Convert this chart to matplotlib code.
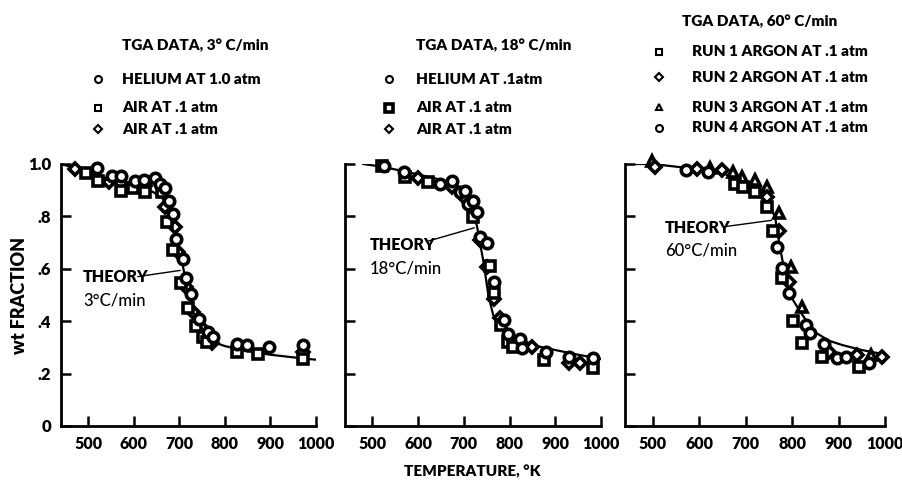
import numpy as np
import matplotlib.pyplot as plt

plt.rcParams['font.family'] = ['Lato', 'DejaVu Sans']

# --- 3 C/min panel ---
he3_T = [519, 552, 572, 602, 622, 647, 658, 668, 677, 686, 693, 708, 715, 726, 743, 763, 774, 826, 849, 897, 972]
he3_w = [0.985, 0.955, 0.955, 0.935, 0.94, 0.946, 0.923, 0.908, 0.858, 0.808, 0.713, 0.636, 0.563, 0.502, 0.41, 0.36, 0.34, 0.314, 0.31, 0.303, 0.31]
airsq3_T = [495, 521, 572, 598, 624, 662, 673, 686, 704, 719, 737, 752, 761, 826, 873, 972]
airsq3_w = [0.965, 0.935, 0.897, 0.908, 0.893, 0.893, 0.778, 0.67, 0.544, 0.452, 0.383, 0.34, 0.32, 0.284, 0.276, 0.257]
airdi3_T = [471, 545, 572, 624, 668, 691, 697, 715, 730, 750, 772, 972]
airdi3_w = [0.98, 0.93, 0.927, 0.916, 0.835, 0.759, 0.663, 0.53, 0.437, 0.375, 0.318, 0.284]
theory3_T = [440, 470, 510, 550, 585, 615, 640, 660, 675, 690, 700, 710, 720, 730, 745, 760, 775, 800, 850, 900, 950, 1000]
theory3_w = [1.0, 0.985, 0.962, 0.94, 0.925, 0.91, 0.895, 0.875, 0.84, 0.76, 0.68, 0.59, 0.53, 0.46, 0.395, 0.345, 0.32, 0.305, 0.285, 0.272, 0.262, 0.253]

# --- 18 C/min panel ---
he18_T = [525, 569, 648, 675, 692, 703, 710, 720, 729, 736, 751, 765, 787, 797, 822, 828, 879, 929, 982]
he18_w = [0.992, 0.97, 0.923, 0.935, 0.893, 0.897, 0.847, 0.858, 0.816, 0.72, 0.70, 0.548, 0.406, 0.352, 0.333, 0.299, 0.284, 0.264, 0.26]
airsq18_T = [521, 572, 622, 720, 758, 765, 782, 797, 808, 876, 982]
airsq18_w = [0.992, 0.95, 0.93, 0.797, 0.61, 0.506, 0.387, 0.322, 0.303, 0.253, 0.222]
airdi18_T = [600, 675, 703, 736, 751, 765, 778, 850, 929, 955]
airdi18_w = [0.946, 0.912, 0.87, 0.709, 0.605, 0.483, 0.414, 0.303, 0.241, 0.241]
theory18_T = [480, 520, 567, 600, 642, 670, 692, 710, 720, 729, 743, 754, 765, 780, 795, 824, 860, 900, 950, 1000]
theory18_w = [1.0, 0.99, 0.973, 0.96, 0.943, 0.92, 0.893, 0.86, 0.825, 0.76, 0.625, 0.495, 0.418, 0.38, 0.355, 0.33, 0.305, 0.29, 0.272, 0.256]

# --- 60 C/min panel ---
run1_T = [676, 695, 721, 745, 758, 779, 801, 822, 865, 944]
run1_w = [0.924, 0.912, 0.893, 0.836, 0.744, 0.565, 0.40, 0.317, 0.263, 0.225]
run2_T = [504, 594, 648, 745, 771, 794, 880, 940, 994]
run2_w = [0.99, 0.98, 0.977, 0.874, 0.744, 0.55, 0.282, 0.271, 0.263]
run3_T = [498, 624, 672, 693, 719, 745, 771, 798, 822, 970]
run3_w = [1.01, 0.985, 0.97, 0.95, 0.939, 0.912, 0.813, 0.607, 0.454, 0.271]
run4_T = [571, 618, 768, 779, 794, 830, 839, 869, 897, 916, 966]
run4_w = [0.977, 0.97, 0.683, 0.603, 0.508, 0.385, 0.355, 0.313, 0.26, 0.263, 0.24]
theory60_T = [444, 500, 573, 644, 690, 715, 735, 751, 764, 772, 783, 798, 815, 835, 852, 880, 908, 950, 1000]
theory60_w = [1.0, 1.0, 0.985, 0.966, 0.945, 0.92, 0.89, 0.855, 0.79, 0.70, 0.595, 0.492, 0.443, 0.39, 0.355, 0.325, 0.309, 0.29, 0.273]

xticks = [500, 600, 700, 800, 900, 1000]
yticks = [0, 0.2, 0.4, 0.6, 0.8, 1.0]
ytick_labels = ['0', '.2', '.4', '.6', '.8', '1.0']

W, H = 902, 484
FS = 11
WT = 'heavy'
fig = plt.figure(figsize=(W / 100, H / 100), dpi=100)


def px_axes(x0, x1, y0=164, y1=426):
    return fig.add_axes([x0 / W, (H - y1) / H, (x1 - x0) / W, (y1 - y0) / H])


def style(ax, show_labels):
    ax.set_xlim(440, 1000)
    ax.set_ylim(0, 1.0)
    for s in ['top', 'right']:
        ax.spines[s].set_visible(False)
    for s in ['left', 'bottom']:
        ax.spines[s].set_linewidth(2)
    ax.set_xticks(xticks)
    ax.set_yticks(yticks)
    ax.tick_params(direction='in', length=7, width=1.8, pad=7)
    ax.set_xticklabels([str(t) for t in xticks], fontsize=FS + 0.5, fontweight=WT)
    if show_labels:
        ax.set_yticklabels(ytick_labels, fontsize=FS + 1, fontweight=WT)
    else:
        ax.set_yticklabels([])


mk = dict(linestyle='none', color='black', mfc='white', mec='black', ms=7.5, mew=2.6, clip_on=False, zorder=3)


def fp(x, y):
    return (x, H - y)


def theory(ax, T, w, text, txy, start, end):
    ax.plot(T, w, color='black', lw=1.6, zorder=2)
    ax.annotate('', xy=end, xytext=start, xycoords='figure pixels',
                arrowprops=dict(arrowstyle='-', color='black', lw=1))
    fig.text(txy[0] / W, 1 - txy[1] / H, 'THEORY', fontsize=FS + 0.5, fontweight=WT, va='center')
    fig.text(txy[0] / W, 1 - (txy[1] + 23) / H, text, fontsize=FS + 1, fontweight='medium', va='center')


ax1 = px_axes(61, 316)
style(ax1, True)
ax1.plot(airdi3_T, airdi3_w, marker='D', **{**mk, 'ms': 6.5})
ax1.plot(airsq3_T, airsq3_w, marker='s', **mk)
ax1.plot(he3_T, he3_w, marker='o', **mk)
theory(ax1, theory3_T, theory3_w, '3°C/min', (83, 277), fp(135, 277), fp(183, 270))

ax2 = px_axes(345, 601)
style(ax2, False)
ax2.plot(airdi18_T, airdi18_w, marker='D', **{**mk, 'ms': 6.5})
ax2.plot(airsq18_T, airsq18_w, marker='s', **mk)
ax2.plot(he18_T, he18_w, marker='o', **mk)
theory(ax2, theory18_T, theory18_w, '18°C/min', (370, 245), fp(425, 242), fp(477, 227))

ax3 = px_axes(625, 885)
style(ax3, False)
ax3.plot(run3_T, run3_w, marker='^', **mk)
ax3.plot(run2_T, run2_w, marker='D', **{**mk, 'ms': 6.5})
ax3.plot(run1_T, run1_w, marker='s', **mk)
ax3.plot(run4_T, run4_w, marker='o', **mk)
theory(ax3, theory60_T, theory60_w, '60°C/min', (665, 228), fp(722, 227), fp(774, 220))

fig.text(20 / W, 1 - 295 / H, 'wt FRACTION', fontsize=13, fontweight=WT,
         rotation=90, ha='center', va='center')
fig.text(472 / W, 1 - 471 / H, 'TEMPERATURE, °K', fontsize=FS, fontweight=WT, ha='center', va='center')

# legend blocks above each panel
leg_mk = dict(linestyle='none', mfc='white', mec='black', ms=5, mew=1.5)
lax = fig.add_axes([0, 0, 1, 1], frameon=False)
lax.set_xlim(0, W)
lax.set_ylim(H, 0)
lax.set_axis_off()


def legend_block(header, hy, rows, mx, tx, hx):
    fig.text(hx / W, 1 - hy / H, header, fontsize=FS, fontweight=WT, va='center')
    for marker, label, y, extra in rows:
        lax.plot([mx], [y], marker=marker, **{**leg_mk, **extra})
        fig.text(tx / W, 1 - y / H, label, fontsize=FS, fontweight=WT, va='center')


legend_block('TGA DATA, 3° C/min', 45,
             [('o', 'HELIUM AT 1.0 atm', 79, {}),
              ('s', 'AIR AT .1 atm', 108, {}),
              ('D', 'AIR AT .1 atm', 129, {'ms': 4.5})], 98, 122, 122)
legend_block('TGA DATA, 18° C/min', 45,
             [('o', 'HELIUM AT .1atm', 79, {}),
              ('s', 'AIR AT .1 atm', 108, {'mew': 2.6, 'ms': 6}),
              ('D', 'AIR AT .1 atm', 129, {'ms': 4.5})], 389, 416, 416)
legend_block('TGA DATA, 60° C/min', 22,
             [('s', 'RUN 1 ARGON AT .1 atm', 52, {}),
              ('D', 'RUN 2 ARGON AT .1 atm', 77, {'ms': 4.5}),
              ('^', 'RUN 3 ARGON AT .1 atm', 107, {}),
              ('o', 'RUN 4 ARGON AT .1 atm', 128, {})], 659, 692, 682)

fig.savefig('out.png', dpi=100)
